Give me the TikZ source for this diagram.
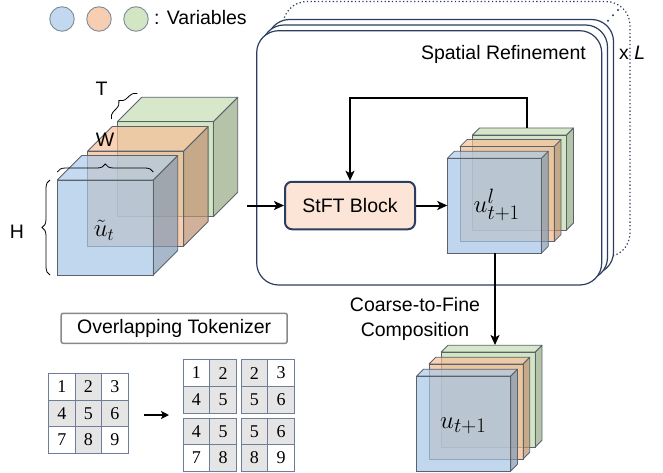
\documentclass[tikz,border=0pt]{standalone}
\usepackage{fontspec}
\setmainfont{Liberation Sans}
\newfontfamily\numfont{Liberation Serif}
\usetikzlibrary{arrows.meta,decorations.pathreplacing,calc}
\definecolor{cblue}{HTML}{A5C6E7}
\definecolor{corange}{HTML}{F5B98F}
\definecolor{cgreen}{HTML}{BFDBAB}
\definecolor{lblue}{HTML}{C2D8EF}
\definecolor{lorange}{HTML}{F7CEB1}
\definecolor{lgreen}{HTML}{D2E6C4}
\definecolor{legstroke}{HTML}{7F8A99}
\definecolor{edgegray}{HTML}{5A626C}
\definecolor{navy}{HTML}{2C3E60}
\definecolor{peach}{HTML}{FCE4D6}
\definecolor{cellgray}{HTML}{E5E5E5}
\definecolor{cellline}{HTML}{6E7D99}
\definecolor{tokgray}{HTML}{888888}
\newcommand{\vcube}[6]{%
\begin{scope}[shift={(#1,#2)}]
 \filldraw[fill=#6!78!black, fill opacity=.7, draw=edgegray, line width=0.8pt, line join=round]
   (#3,0) -- (#3+#5,-#5) -- (#3+#5,#4-#5) -- (#3,#4) -- cycle;
 \filldraw[fill=#6!92!white, fill opacity=.7, draw=edgegray, line width=0.8pt, line join=round]
   (0,0) -- (#5,-#5) -- (#3+#5,-#5) -- (#3,0) -- cycle;
 \filldraw[fill=#6, fill opacity=.7, draw=edgegray, line width=0.8pt]
   (0,0) rectangle (#3,#4);
\end{scope}}
\tikzset{
  txt/.style={font=\fontsize{19.5}{23}\selectfont, inner sep=0pt},
  mathlbl/.style={font=\fontsize{25}{29}\selectfont, inner sep=0pt},
  mathbig/.style={font=\fontsize{28}{32}\selectfont, inner sep=0pt},
  arr/.style={line width=2pt, -{Stealth[length=10pt,width=9pt,inset=2.5pt]}},
  legcirc/.style={circle, minimum size=24.5pt, inner sep=0pt, draw=legstroke, line width=0.9pt},
  refbox/.style={draw=navy, line width=1.2pt, fill=white, rounded corners=22pt},
  brc/.style={decorate, decoration={brace, amplitude=8pt}, line width=0.8pt},
  cell/.style={draw=cellline, line width=0.9pt, minimum size=#1, inner sep=0pt, anchor=north west,
     font=\numfont\fontsize{18}{20}\selectfont},
  tokbox/.style={draw=tokgray, line width=1.5pt, rounded corners=2pt, minimum width=226pt, minimum height=30pt,
     font=\fontsize{19.5}{23}\selectfont, inner sep=0pt}
}
\begin{document}
\begin{tikzpicture}[x=1pt,y=-1pt]
\useasboundingbox (0,0) rectangle (663,473);
% legend
\node[legcirc, fill=lblue] (lc1) at (62,19) {};
\node[legcirc, fill=lorange] (lc2) at (99,19) {};
\node[legcirc, fill=lgreen] (lc3) at (136,19) {};
\node[txt, anchor=base west] (legtxt) at (154,25) {: Variables};

% input stack
\vcube{117.3}{121.7}{96}{95}{24.4}{cgreen}
\vcube{87.7}{151}{96}{95}{24.4}{corange}
\vcube{57.3}{180}{96}{95}{24.4}{cblue}
\node[mathlbl] (ut) at (104,230) {$\tilde{u}_t$};
\draw[brc] (50,275) -- (50,180);
\draw[brc] (57.3,172) -- (153.3,172);
\draw[brc] (111.5,119) -- (137.5,93.5);
\node[txt] (Hl) at (17,232) {H};
\node[txt] (Wl) at (105,140) {W};
\node[txt] (Tl) at (101.5,89) {T};

% refinement boxes
\draw[navy, line width=1.2pt, dash pattern=on 1.3pt off 2.4pt, rounded corners=24pt] (283,1.5) rectangle (630,257);
\fill[navy] (608,20.7) circle (1.1) (613,15.3) circle (1.1) (618,10) circle (1.1);
\draw[refbox] (267.5,19.5) rectangle (613.5,274);
\draw[refbox] (262,25) rectangle (607.5,279.5);
\draw[refbox] (256.7,30.7) rectangle (601.7,285);
\node[txt, anchor=base east] (srt) at (586,59.5) {Spatial Refinement};
\node[txt, anchor=base west] (xl) at (619,59.3) {x \textit{L}};

% StFT block
\node[draw=navy, line width=2pt, fill=peach, rounded corners=7pt, minimum width=130pt, minimum height=47.5pt,
      txt] (stft) at (350,205.5) {StFT Block};

% middle stack
\vcube{472.5}{135}{94}{95}{7}{cgreen}
\vcube{460}{146.6}{94}{95}{7}{corange}
\vcube{447.3}{158.3}{94}{95}{7}{cblue}
\node[mathbig] (ul) at (496.7,205) {$u^{l}_{t+1}$};

% bottom stack
\vcube{441.3}{352}{94}{95}{6.7}{cgreen}
\vcube{429}{364}{94}{95}{6.7}{corange}
\vcube{416.7}{376}{94}{95}{6.7}{cblue}
\node[mathbig] (uo) at (463.3,425.7) {$u_{t+1}$};

% connectors
\coordinate (inout) at (247,205.5);
\coordinate (midin) at (447.3,205.5);
\coordinate (fbstart) at (526.7,128);
\coordinate (fbtop) at (526.7,98.3);
\coordinate (mbot) at (495,253.3);
\coordinate (btop) at (495,345);
\draw[arr] (inout) -- (stft.west);
\draw[arr] (stft.east) -- (midin);
\draw[arr, line join=miter] (fbstart) -- (fbtop) -| (stft.north);
\draw[arr] (mbot) -- (btop);
\node[txt, anchor=base] (c2f1) at (415,311.7) {Coarse-to-Fine};
\node[txt, anchor=base] (c2f2) at (415,336.7) {Composition};

% tokenizer
\node[tokbox] (tok) at (174.2,328.3) {Overlapping Tokenizer};
\foreach \c/\r/\n/\f in {0/0/1/white,1/0/2/cellgray,2/0/3/white,
                        0/1/4/cellgray,1/1/5/cellgray,2/1/6/cellgray,
                        0/2/7/white,1/2/8/cellgray,2/2/9/white}{
  \node[cell=26.4pt, fill=\f] (g\n) at (48.3+26.4*\c,373.3+26.4*\r) {\n};
}
\coordinate (ta) at (144,415);
\coordinate (tb) at (169,415);
\draw[line width=2pt, -{Stealth[length=8pt,width=8pt,inset=2pt]}] (ta) -- (tb);
% 2x2 blocks
\foreach \bx/\by/\b/\na/\fa/\nb/\fb/\nc/\fc/\nd/\fd in
  {182.7/359.3/A/1/white/2/cellgray/4/cellgray/5/cellgray,
   240.7/359.3/B/2/cellgray/3/white/5/cellgray/6/cellgray,
   182.7/417.7/C/4/cellgray/5/cellgray/7/white/8/cellgray,
   240.7/417.7/D/5/cellgray/6/cellgray/8/cellgray/9/white}{
  \node[cell=26.6pt, fill=\fa] (b\b1) at (\bx,\by) {\na};
  \node[cell=26.6pt, fill=\fb] (b\b2) at (\bx+26.6,\by) {\nb};
  \node[cell=26.6pt, fill=\fc] (b\b3) at (\bx,\by+26.6) {\nc};
  \node[cell=26.6pt, fill=\fd] (b\b4) at (\bx+26.6,\by+26.6) {\nd};
}
\end{tikzpicture}
\end{document}
